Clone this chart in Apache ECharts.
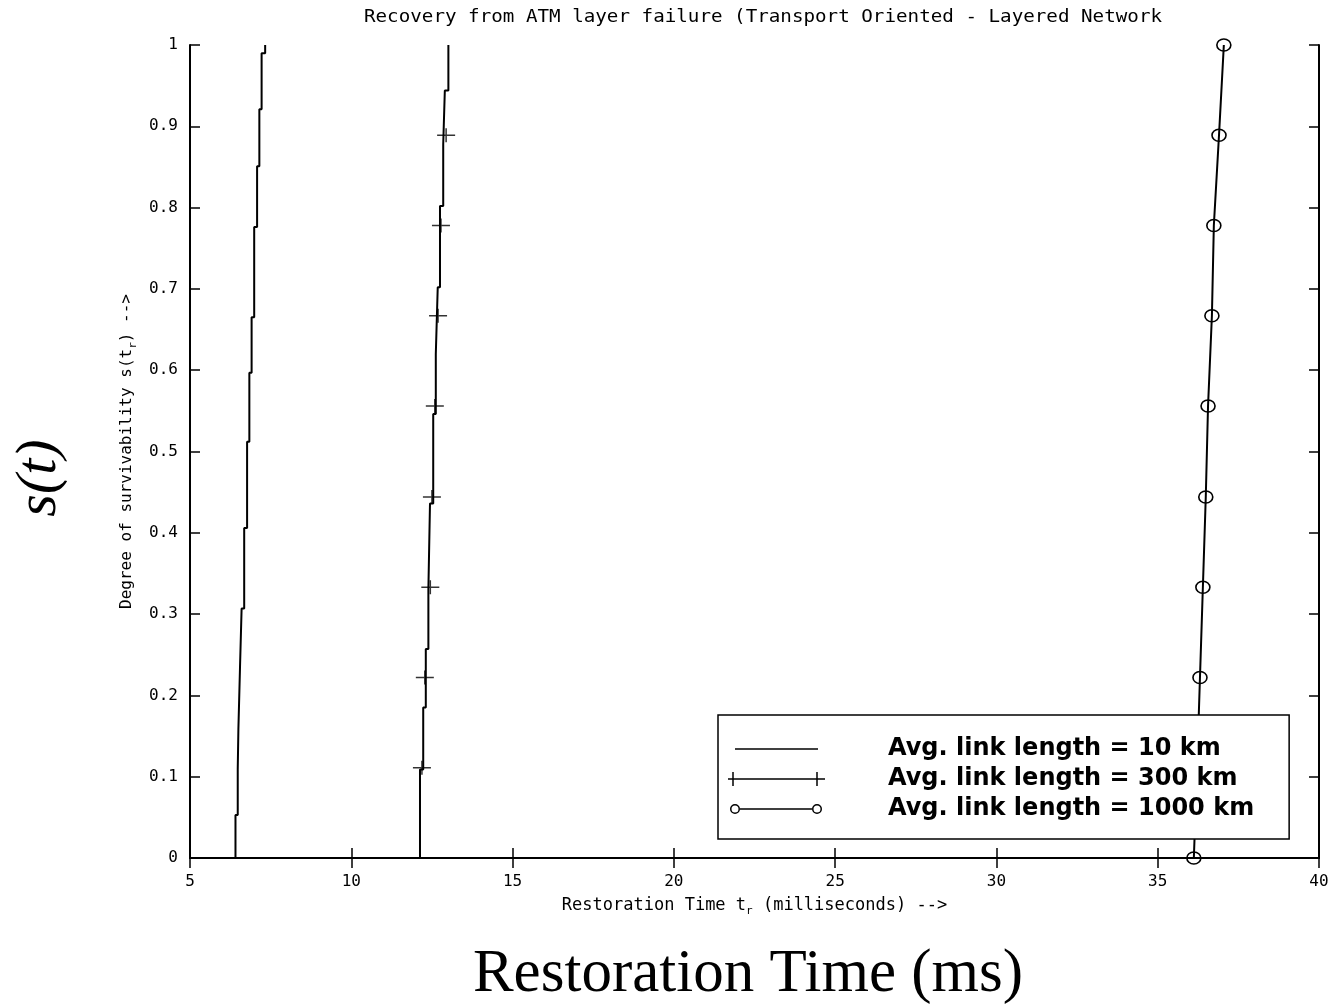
<!DOCTYPE html>
<html><head><meta charset="utf-8">
<script src="https://cdn.jsdelivr.net/npm/echarts@6/dist/echarts.min.js"></script>
<style>html,body{margin:0;padding:0;background:#fff}#c{width:1333px;height:1008px}</style>
</head><body><div id="c"></div>
<script>
const titleText = 'Recovery from ATM layer failure (Transport Oriented - Layered Network';
const xAxisName = 'Restoration Time t{sub|r} (milliseconds) -->';
const yAxisName = 'Degree of survivability s(t{sub|r}) -->';
const outerYLabel = 's(t)';
const outerXLabel = 'Restoration Time (ms)';
const seriesNames = ['Avg. link length = 10 km', 'Avg. link length = 300 km', 'Avg. link length = 1000 km'];

// 10 km curve: vertical step segments (y breaks and x of each segment)
const line1YBreaks = [0, 0.053, 0.109, 0.158, 0.234, 0.307, 0.406, 0.512, 0.597, 0.665, 0.776, 0.851, 0.921, 0.990, 1.0];
const line1X = [6.41, 6.48, 6.50, 6.55, 6.60, 6.68, 6.77, 6.84, 6.91, 6.99, 7.08, 7.15, 7.22, 7.33];

// 300 km curve
const line2YBreaks = [0, 0.109, 0.185, 0.257, 0.330, 0.436, 0.546, 0.620, 0.702, 0.802, 0.878, 0.944, 1.0];
const line2X = [12.13, 12.23, 12.31, 12.39, 12.44, 12.54, 12.62, 12.68, 12.75, 12.85, 12.90, 13.01];
const line2MarkerY = [0.111, 0.222, 0.333, 0.444, 0.556, 0.667, 0.778, 0.889];
const line2MarkerX = [12.19, 12.28, 12.45, 12.50, 12.59, 12.69, 12.78, 12.94];

// 1000 km curve
const line3Y = [0, 0.111, 0.222, 0.333, 0.444, 0.556, 0.667, 0.778, 0.889, 1.0];
const line3X = [36.12, 36.22, 36.31, 36.40, 36.49, 36.56, 36.68, 36.74, 36.90, 37.05];

function stepPoints(xs, yb) {
  const pts = [];
  for (let i = 0; i < xs.length; i++) { pts.push([xs[i], yb[i]]); pts.push([xs[i], yb[i + 1]]); }
  return pts;
}
function zip(xs, ys) { return xs.map((x, i) => [x, ys[i]]); }

const BLACK = '#000';
const MONO = 'DejaVu Sans Mono';
const chart = echarts.init(document.getElementById('c'), null, {renderer: 'canvas'});
const tickFont = {color: BLACK, fontSize: 16, fontFamily: MONO};
const subRich = {sub: {fontSize: 11, verticalAlign: 'bottom', padding: [12, 0, 0, 0], fontFamily: MONO, color: BLACK}};

const icon1 = 'path://M0,0M155,14M7,6.25h83v1.5h-83z';
const icon2 = 'path://M0,0M155,14M0,6.25h97v1.5h-97z M4.25,0h1.5v14h-1.5z M88.25,0h1.5v14h-1.5z';
const icon3 = 'path://M0,0M155,14M12,6.25h72v1.5h-72z M12,7 A5,5 0 1,0 2,7 A5,5 0 1,0 12,7 Z M10.5,7 A3.5,3.5 0 1,1 3.5,7 A3.5,3.5 0 1,1 10.5,7 Z M94,7 A5,5 0 1,0 84,7 A5,5 0 1,0 94,7 Z M92.5,7 A3.5,3.5 0 1,1 85.5,7 A3.5,3.5 0 1,1 92.5,7 Z';

const axisLine = {show: true, lineStyle: {color: BLACK, width: 2}};
const axisTick = {show: true, inside: true, length: 10, lineStyle: {color: BLACK, width: 1.5}};

chart.setOption({
  animation: false,
  backgroundColor: '#fff',
  grid: {left: 190, right: 14, top: 45, bottom: 150, containLabel: false},
  xAxis: [{
    type: 'value', min: 5, max: 40, interval: 5, position: 'bottom',
    axisLine, axisTick, splitLine: {show: false},
    axisLabel: Object.assign({margin: 16}, tickFont),
    name: xAxisName, nameLocation: 'middle', nameGap: 36,
    nameTextStyle: {color: BLACK, fontSize: 17, fontFamily: MONO, rich: subRich}
  }, {
    type: 'value', min: 5, max: 40, interval: 5, position: 'top',
    axisLine, axisTick, splitLine: {show: false}, axisLabel: {show: false}
  }],
  yAxis: [{
    type: 'value', min: 0, max: 1, interval: 0.1, position: 'left',
    axisLine, axisTick, splitLine: {show: false},
    axisLabel: Object.assign({margin: 12}, tickFont),
    name: yAxisName, nameLocation: 'middle', nameGap: 50, nameRotate: 90,
    nameTextStyle: {color: BLACK, fontSize: 16, fontFamily: MONO, rich: subRich}
  }, {
    type: 'value', min: 0, max: 1, interval: 0.1, position: 'right',
    axisLine, axisTick, splitLine: {show: false}, axisLabel: {show: false}
  }],
  legend: {
    orient: 'vertical', left: 718, top: 715,
    padding: [22, 35, 18, 10], itemGap: 6, itemWidth: 155, itemHeight: 14,
    backgroundColor: '#fff', borderColor: BLACK, borderWidth: 1.5, borderRadius: 0,
    selectedMode: false,
    textStyle: {color: BLACK, fontSize: 24, fontWeight: 'bold', fontFamily: 'DejaVu Sans', lineHeight: 24},
    itemStyle: {color: BLACK, borderWidth: 0},
    data: [
      {name: seriesNames[0], icon: icon1},
      {name: seriesNames[1], icon: icon2},
      {name: seriesNames[2], icon: icon3}
    ]
  },
  graphic: [
    {type: 'text', x: 763, y: 18, scaleX: 1.13, style: {text: titleText, align: 'center', verticalAlign: 'middle', fontSize: 17, fontFamily: MONO, fill: BLACK}},
    {type: 'text', x: 40, y: 478, rotation: Math.PI / 2, style: {text: outerYLabel, align: 'center', verticalAlign: 'middle', fontSize: 58, fontStyle: 'italic', fontFamily: 'Liberation Serif', fill: BLACK}},
    {type: 'text', x: 748, y: 975, style: {text: outerXLabel, align: 'center', verticalAlign: 'middle', fontSize: 61, fontFamily: 'Liberation Serif', fill: BLACK}}
  ],
  series: [
    {name: seriesNames[0], type: 'line', data: stepPoints(line1X, line1YBreaks), showSymbol: false, symbol: 'none',
     lineStyle: {color: BLACK, width: 2}, itemStyle: {color: BLACK}},
    {name: seriesNames[1], type: 'line', data: stepPoints(line2X, line2YBreaks), showSymbol: false, symbol: 'none',
     lineStyle: {color: BLACK, width: 2}, itemStyle: {color: BLACK}},
    {name: seriesNames[1], type: 'scatter', data: zip(line2MarkerX, line2MarkerY),
     symbol: 'path://M0,6.25h18v1.5h-18z M8.25,0h1.5v14h-1.5z', symbolSize: [18, 14], symbolKeepAspect: false,
     itemStyle: {color: BLACK}, clip: false},
    {name: seriesNames[2], type: 'line', data: zip(line3X, line3Y), showSymbol: true, symbol: 'circle', symbolSize: [14, 12],
     lineStyle: {color: BLACK, width: 2}, itemStyle: {color: 'rgba(255,255,255,0)', borderColor: BLACK, borderWidth: 1.5}, clip: false}
  ]
});
</script></body></html>
